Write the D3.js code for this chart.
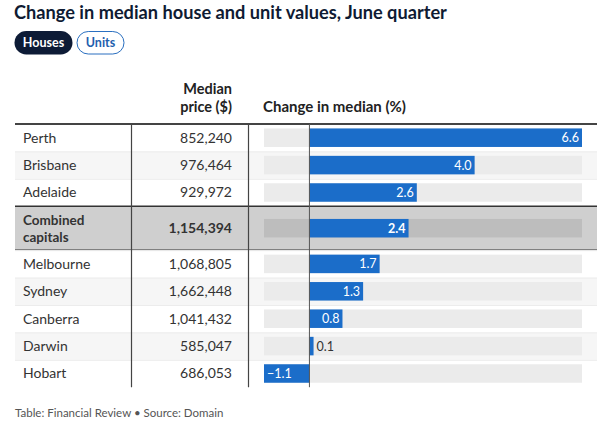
<!DOCTYPE html>
<html><head><meta charset="utf-8">
<script src="https://cdn.jsdelivr.net/npm/d3@7"></script>
<style>
html,body{margin:0;padding:0;background:#fff;}
svg text{font-family:Lato,"Noto Sans",sans-serif;}
</style></head>
<body><svg id="c" width="607" height="425"></svg>
<script>
const cities = ["Perth","Brisbane","Adelaide","Combined capitals","Melbourne","Sydney","Canberra","Darwin","Hobart"];
const prices = [852240,976464,929972,1154394,1068805,1662448,1041432,585047,686053];
const changes = [6.6,4.0,2.6,2.4,1.7,1.3,0.8,0.1,-1.1];
const highlight = [false,false,false,true,false,false,false,false,false];
const title = "Change in median house and unit values, June quarter";
const tabs = ["Houses","Units"];
const headers = ["Median","price ($)","Change in median (%)"];
const footer = "Table: Financial Review \u2022 Source: Domain";

const svg = d3.select("#c");
const ink = "#0f1b33";
svg.append("text").attr("x",14).attr("y",19).attr("font-size",18.2).attr("font-weight",700)
  .attr("fill",ink).text(title);

// tabs
const tabG = svg.append("g");
const h = tabG.append("g");
h.append("rect").attr("x",14.5).attr("y",31).attr("width",58).attr("height",23.5).attr("rx",11.75).attr("fill","#0d1b36");
h.append("text").attr("x",43.5).attr("y",47).attr("text-anchor","middle").attr("font-size",12.5).attr("font-weight",700).attr("fill","#fff").text(tabs[0]);
const u = tabG.append("g");
u.append("rect").attr("x",77).attr("y",31.5).attr("width",47).attr("height",22.5).attr("rx",11.25).attr("fill","#fff").attr("stroke","#2a6fc0").attr("stroke-width",1);
u.append("text").attr("x",100.5).attr("y",47).attr("text-anchor","middle").attr("font-size",12.5).attr("font-weight",700).attr("fill","#1f5fae").text(tabs[1]);

// layout
const tLeft = 15, tRight = 597, col1 = 131, col2 = 248, tTop = 124;
const rowH = highlight.map(d => d ? 44 : 27.4);
const rowY = [];
let acc = tTop;
rowH.forEach(v => { rowY.push(acc); acc += v; });
const tBottom = acc;

const x = d3.scaleLinear().domain([d3.min(changes), d3.max(changes)]).range([264, 582]);

// headers
svg.append("text").attr("text-anchor","end").attr("font-size",14.5).attr("font-weight",700).attr("fill","#222")
  .attr("x",232).attr("y",94).text(headers[0]);
svg.append("text").attr("text-anchor","end").attr("font-size",14.5).attr("font-weight",700).attr("fill","#222")
  .attr("x",232).attr("y",111.5).text(headers[1]);
svg.append("text").attr("x",263).attr("y",111.5).attr("font-size",15).attr("font-weight",700).attr("fill","#222").text(headers[2]);

const rows = svg.append("g").selectAll("g").data(cities).join("g")
  .attr("transform",(d,i)=>`translate(0,${rowY[i]})`);

rows.append("rect").attr("x",tLeft).attr("y",0).attr("width",tRight-tLeft).attr("height",(d,i)=>rowH[i])
  .attr("fill",(d,i)=> highlight[i] ? "#cfcfcf" : (i%2===1 ? "#f6f6f6" : "#fff"));
rows.filter((d,i)=>!highlight[i] && i>0).append("line").attr("x1",tLeft).attr("x2",tRight).attr("y1",0.5).attr("y2",0.5).attr("stroke","#ececec");

rows.each(function(d,i){
  const g = d3.select(this);
  const H = rowH[i];
  const fs = 14;
  if (highlight[i]) {
    const parts = d.split(" ");
    g.append("text").attr("x",23).attr("y",H/2-3).attr("font-size",13.5).attr("font-weight",700).attr("fill","#333").text(parts[0]);
    g.append("text").attr("x",23).attr("y",H/2+13.5).attr("font-size",13.5).attr("font-weight",700).attr("fill","#333").text(parts[1]);
  } else {
    g.append("text").attr("x",23).attr("y",H/2+5).attr("font-size",fs).attr("fill","#333").text(d);
  }
  g.append("text").attr("x",232).attr("y",H/2+5).attr("text-anchor","end").attr("font-size",fs)
    .attr("font-weight",highlight[i]?700:400).attr("fill","#333").text(d3.format(",")(prices[i]));
  const bh = 18.5;
  g.append("rect").attr("x",x.range()[0]).attr("width",x.range()[1]-x.range()[0]).attr("y",(H-bh)/2).attr("height",bh)
    .attr("fill",highlight[i] ? "#bdbdbd" : "#ebebeb");
  const v = changes[i];
  const x0 = x(Math.min(0,v)), x1 = x(Math.max(0,v));
  g.append("rect").attr("x",x0).attr("width",Math.max(1,x1-x0)).attr("y",(H-bh)/2).attr("height",bh).attr("fill","#1b6dc9");
  const inside = (x1-x0) > 25;
  const lbl = d3.format(".1f")(v);
  let t;
  if (inside) {
    t = g.append("text").attr("y",H/2+4.5).attr("font-size",12.5).attr("fill","#fff").attr("font-weight",highlight[i]?700:400);
    if (v >= 0) t.attr("x",x1-3).attr("text-anchor","end"); else t.attr("x",x0+3).attr("text-anchor","start");
  } else {
    t = g.append("text").attr("y",H/2+4.5).attr("font-size",12.5).attr("fill","#333").attr("x",x1+3).attr("text-anchor","start");
  }
  t.text(lbl);
});

rows.filter((d,i)=>highlight[i]).each(function(){
  const g = d3.select(this);
  const H = 44;
  g.append("line").attr("x1",tLeft).attr("x2",tRight).attr("y1",0).attr("y2",0).attr("stroke","#333").attr("stroke-width",1.5);
  g.append("line").attr("x1",tLeft).attr("x2",tRight).attr("y1",H).attr("y2",H).attr("stroke","#333").attr("stroke-width",1.5);
});

svg.append("line").attr("x1",tLeft).attr("x2",tRight).attr("y1",tTop).attr("y2",tTop).attr("stroke","#444").attr("stroke-width",2);
[col1,col2].forEach(cx=>{
  svg.append("line").attr("x1",cx+0.5).attr("x2",cx+0.5).attr("y1",tTop).attr("y2",tBottom).attr("stroke","#444").attr("stroke-width",1.2);
});
svg.append("line").attr("x1",x(0)).attr("x2",x(0)).attr("y1",tTop).attr("y2",tBottom).attr("stroke","#555").attr("stroke-width",1);

svg.append("text").attr("x",15).attr("y",416.5).attr("font-size",11.5).attr("fill","#555").text(footer);
</script></body></html>
